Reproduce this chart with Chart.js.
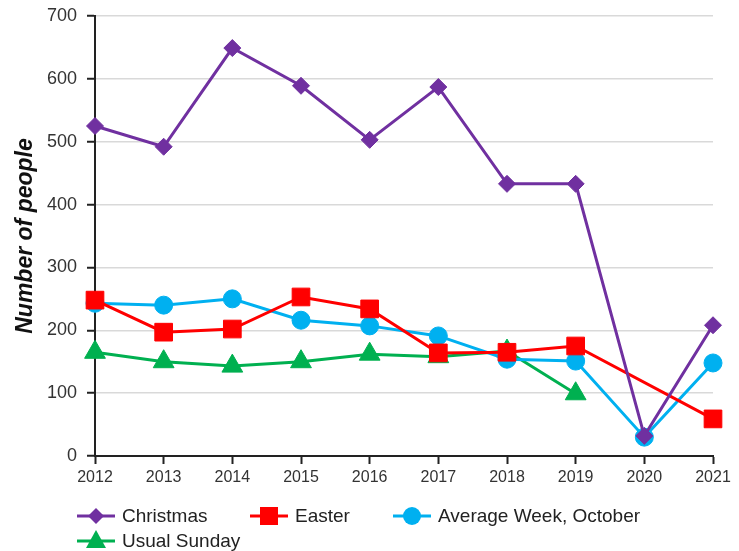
<!DOCTYPE html>
<html>
    <head>
        <title>Number of people</title>
        <script src="https://cdn.jsdelivr.net/npm/chart.js@4/dist/chart.umd.min.js"></script>
        <style>
            body {
                margin: 0;
                background: #fff;
                font-family: 'Liberation Sans', Arial, sans-serif;
            }
            #wrap {
                position: relative;
                width: 739px;
                height: 551px;
            }
            .item {
                position: absolute;
                height: 24px;
                display: flex;
                align-items: center;
                font-size: 19px;
                color: #222;
                white-space: nowrap;
            }
            .item svg {
                margin-right: 7px;
            }
        </style>
    </head>

    <body>
        <div id="wrap">
            <canvas id="myChart" width="739" height="551"></canvas>
            <div id="legend"></div>
        </div>

        <script>
            // chart data
            var years = ['2012', '2013', '2014', '2015', '2016', '2017', '2018', '2019', '2020', '2021'];
            var christmas = [525, 492, 649, 589, 503, 587, 433, 433, 32, 208];
            var easter = [248, 197, 202, 253, 234, 164, 165, 175, null, 59];
            var averageWeek = [243, 240, 250, 216, 207, 191, 154, 151, 30, 148];
            var usualSunday = [165, 150, 143, 150, 162, 158, 167, 99, null, null];
            var yTicks = [0, 100, 200, 300, 400, 500, 600, 700];

            var font = "'Liberation Sans', Arial, sans-serif";

            function series(label, data, color, style, radius) {
                return {
                    label: label,
                    data: data,
                    borderColor: color,
                    backgroundColor: color,
                    borderWidth: 3,
                    pointStyle: style,
                    pointRadius: radius,
                    pointHoverRadius: radius,
                    pointBorderWidth: 1,
                    spanGaps: true,
                    tension: 0
                };
            }

            var ctx = document.getElementById('myChart').getContext('2d');
            var chart = new Chart(ctx, {
                type: 'line',
                data: {
                    labels: years,
                    datasets: [
                        series('Christmas', christmas, '#7030a0', 'rectRot', 8.5),
                        series('Easter', easter, '#ff0000', 'rect', 12.5),
                        series('Average Week, October', averageWeek, '#00b0f0', 'circle', 9),
                        series('Usual Sunday', usualSunday, '#00b050', 'triangle', 12)
                    ]
                },
                options: {
                    responsive: false,
                    animation: false,
                    layout: {
                        padding: { left: 0, right: 26, top: 16, bottom: 65 }
                    },
                    plugins: {
                        legend: { display: false },
                        tooltip: { enabled: false }
                    },
                    scales: {
                        x: {
                            offset: false,
                            afterFit: function(scale) {
                                scale.height = 30;
                                scale.paddingLeft = 0;
                                scale.paddingRight = 0;
                            },
                            border: { color: '#222', width: 2 },
                            grid: {
                                drawOnChartArea: false,
                                drawTicks: true,
                                tickLength: 8,
                                tickColor: '#222',
                                tickWidth: 2
                            },
                            ticks: {
                                color: '#333',
                                padding: 4,
                                maxRotation: 0,
                                font: { family: font, size: 16 }
                            }
                        },
                        y: {
                            min: 0,
                            max: 700,
                            afterFit: function(scale) {
                                scale.width = 95;
                                scale.paddingTop = 0;
                                scale.paddingBottom = 0;
                            },
                            afterBuildTicks: function(scale) {
                                scale.ticks = yTicks.map(function(v) { return { value: v }; });
                            },
                            border: { color: '#222', width: 2 },
                            grid: {
                                color: '#d9d9d9',
                                lineWidth: 1.5,
                                tickLength: 8,
                                tickColor: '#222',
                                tickWidth: 2
                            },
                            ticks: {
                                color: '#333',
                                padding: 10,
                                font: { family: font, size: 18 }
                            },
                            title: {
                                display: true,
                                text: 'Number of people',
                                color: '#111',
                                padding: { top: 12, bottom: 0 },
                                font: { family: font, size: 23, weight: 'bold', style: 'italic' }
                            }
                        }
                    }
                }
            });
        </script>

        <script>
            // legend below the chart, laid out like the original
            var legendItems = [
                { label: 'Christmas', color: '#7030a0', shape: 'diamond', x: 77, y: 504 },
                { label: 'Easter', color: '#ff0000', shape: 'square', x: 250, y: 504 },
                { label: 'Average Week, October', color: '#00b0f0', shape: 'circle', x: 393, y: 504 },
                { label: 'Usual Sunday', color: '#00b050', shape: 'triangle', x: 77, y: 529 }
            ];

            function marker(shape, color) {
                if (shape == 'diamond') return '<polygon points="19,4 27,12 19,20 11,12" fill="' + color + '"/>';
                if (shape == 'square') return '<rect x="10" y="3" width="18" height="18" fill="' + color + '"/>';
                if (shape == 'circle') return '<circle cx="19" cy="12" r="9" fill="' + color + '"/>';
                return '<polygon points="19,1 29,19 9,19" fill="' + color + '"/>';
            }

            var html = '';
            legendItems.forEach(function(it) {
                html += '<div class="item" style="left:' + it.x + 'px;top:' + it.y + 'px">' +
                    '<svg width="38" height="24"><line x1="0" y1="12" x2="38" y2="12" stroke="' + it.color + '" stroke-width="3"/>' +
                    marker(it.shape, it.color) + '</svg>' + it.label + '</div>';
            });
            document.getElementById('legend').innerHTML = html;
        </script>
    </body>
</html>
